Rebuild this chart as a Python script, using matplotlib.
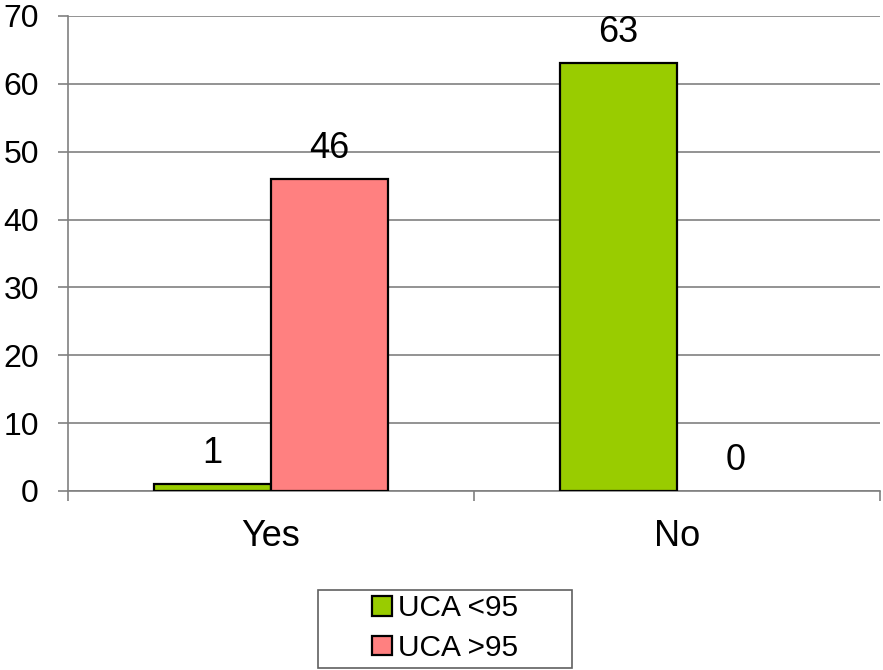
import matplotlib.pyplot as plt
from matplotlib.patches import Rectangle
import numpy as np

plt.rcParams['font.family'] = ['Liberation Sans', 'DejaVu Sans']

categories = ['Yes', 'No']
uca_low = [1, 63]
uca_high = [46, 0]
series_names = ['UCA <95', 'UCA >95']
colors = ['#99cc00', '#ff8080']
yticks = [0, 10, 20, 30, 40, 50, 60, 70]

W, H = 883, 670
fig = plt.figure(figsize=(W / 100, H / 100), dpi=100)
ax = fig.add_axes([68 / W, 1 - 491 / H, (880 - 68) / W, (491 - 16) / H])

x = np.arange(len(categories))
w = 0.288
bars = []
for i, (vals, col) in enumerate(zip([uca_low, uca_high], colors)):
    b = ax.bar(x + (i - 0.5) * w, vals, w, color=col, edgecolor='black',
               linewidth=1.6, label=series_names[i], zorder=3)
    bars.append(b)
    for rect, v in zip(b, vals):
        if v == 0:
            rect.set_linewidth(0)
        ax.annotate(str(v), (rect.get_x() + rect.get_width() / 2, v),
                    xytext=(0, 22), textcoords='offset points',
                    ha='center', va='center', fontsize=26)

ax.set_xlim(-0.5, 1.5)
ax.set_ylim(0, 70)
ax.set_yticks(yticks)
ax.set_xticks([-0.5, 0.5, 1.5], minor=False)
ax.set_xticklabels([])
ax.set_xticks(x, minor=True)
ax.set_xticklabels(categories, minor=True, fontsize=26)
ax.tick_params(axis='x', which='minor', length=0, pad=20)
ax.tick_params(axis='x', which='major', length=7, color='#808080', width=1.2)
ax.tick_params(axis='y', labelsize=23, length=7, color='#808080', width=1.2, pad=14)
ax.yaxis.grid(True, color='#808080', linewidth=1.2, zorder=0)
ax.set_axisbelow(True)
for s in ['top', 'right']:
    ax.spines[s].set_visible(False)
for s in ['left', 'bottom']:
    ax.spines[s].set_color('#808080')
    ax.spines[s].set_linewidth(1.2)

# legend box drawn by hand, entries centred inside
fig.add_artist(Rectangle((318 / W, 1 - 668 / H), (572 - 318) / W, (668 - 590) / H,
                         transform=fig.transFigure, facecolor='white',
                         edgecolor='#606060', linewidth=1.2))
leg = fig.legend(handles=bars, labels=series_names,
                 loc='center', bbox_to_anchor=(445 / W, 1 - 628 / H),
                 fontsize=21.5, frameon=False,
                 handlelength=0.65, handleheight=0.65, handletextpad=0.2,
                 labelspacing=0.4, borderaxespad=0)
fig.savefig('out.png', dpi=100)
